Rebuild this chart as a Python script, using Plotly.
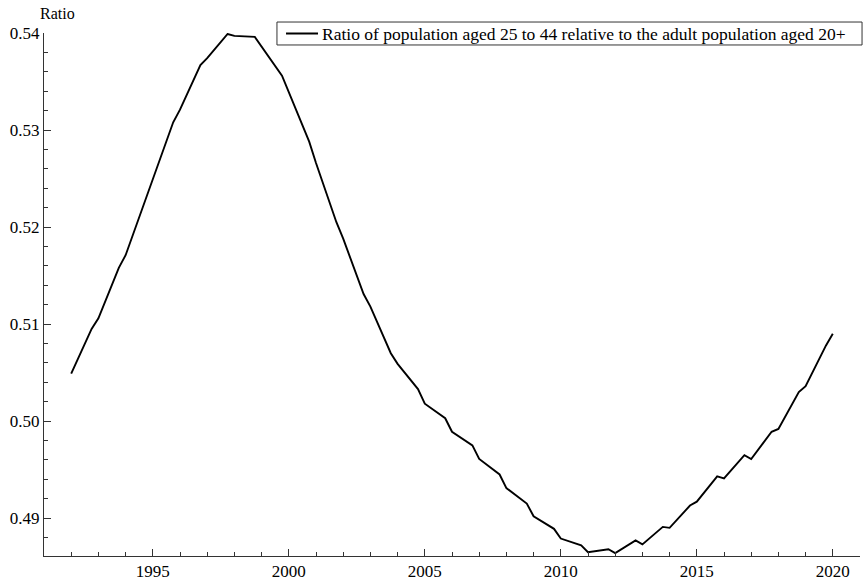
import plotly.graph_objects as go

# Decimal years (kinks of the curve) and ratio values
years = [1992.0, 1992.75, 1993.0, 1993.75, 1994.0, 1994.75, 1995.0, 1995.75,
         1996.0, 1996.75, 1997.0, 1997.75, 1998.0, 1998.75, 1999.75, 2000.75,
         2001.0, 2001.75, 2002.0, 2002.75, 2003.0, 2003.75, 2004.0, 2004.75,
         2005.0, 2005.75, 2006.0, 2006.75, 2007.0, 2007.75, 2008.0, 2008.75,
         2009.0, 2009.75, 2010.0, 2010.75, 2011.0, 2011.75, 2012.0, 2012.75,
         2013.0, 2013.75, 2014.0, 2014.75, 2015.0, 2015.75, 2016.0, 2016.75,
         2017.0, 2017.75, 2018.0, 2018.75, 2019.0, 2019.75, 2020.0]
ratio = [0.5049, 0.5095, 0.5106, 0.5158, 0.5171, 0.5230, 0.5249, 0.5308,
         0.5321, 0.5367, 0.5374, 0.5399, 0.5397, 0.5396, 0.5356, 0.5288,
         0.5266, 0.5205, 0.5188, 0.5131, 0.5118, 0.5070, 0.5059, 0.5033,
         0.5018, 0.5003, 0.4989, 0.4975, 0.4961, 0.4945, 0.4931, 0.4915,
         0.4902, 0.4889, 0.4879, 0.4872, 0.4865, 0.4868, 0.4864, 0.4877,
         0.4873, 0.4891, 0.4890, 0.4913, 0.4917, 0.4943, 0.4941, 0.4965,
         0.4961, 0.4989, 0.4992, 0.5030, 0.5036, 0.5078, 0.5090]

series_name = "Ratio of population aged 25 to 44 relative to the adult population aged 20+"
y_title = "Ratio"

FONT = "Times New Roman, Liberation Serif, DejaVu Serif, serif"
LINE_COLOR = "black"

fig = go.Figure()
fig.add_trace(go.Scatter(
    x=years, y=ratio, mode="lines", name=series_name,
    line=dict(color=LINE_COLOR, width=1.9), showlegend=False,
))

# Compact boxed legend (drawn in paper coordinates, like the reference's)
legend_box = dict(type="rect", xref="paper", yref="paper",
                  x0=0.2855, x1=1.0025, y0=0.9771, y1=1.0210,
                  line=dict(color="#333333", width=1), fillcolor="white", layer="above")
legend_sample = dict(type="line", xref="paper", yref="paper",
                     x0=0.2966, x1=0.3358, y0=0.999, y1=0.999,
                     line=dict(color=LINE_COLOR, width=1.9), layer="above")

fig.update_layout(
    width=865, height=581,
    margin=dict(l=44, r=5, t=33, b=25, autoexpand=False),
    paper_bgcolor="white", plot_bgcolor="white",
    font=dict(family=FONT, size=17, color="black"),
    showlegend=False,
    shapes=[legend_box, legend_sample],
    annotations=[
        dict(text=y_title, xref="paper", yref="paper", x=0.017, y=1.0382,
             xanchor="center", yanchor="middle", showarrow=False, borderpad=0,
             font=dict(family=FONT, size=16, color="black")),
        dict(text=series_name, xref="paper", yref="paper", x=0.3395, y=0.999,
             xanchor="left", yanchor="middle", showarrow=False, borderpad=0,
             font=dict(family=FONT, size=17.5, color="black")),
    ],
)

fig.update_xaxes(
    range=[1991, 2021], showgrid=False, zeroline=False, automargin=False,
    showline=True, linecolor="#333333", linewidth=1,
    ticks="inside", ticklen=7, tickcolor="#333333",
    tick0=1995, dtick=5,
    minor=dict(dtick=1, tick0=1991, ticks="inside", ticklen=4, tickcolor="#333333", showgrid=False),
    tickfont=dict(family=FONT, size=17),
)
fig.update_yaxes(
    range=[0.4861, 0.54], showgrid=False, zeroline=False, automargin=False,
    showline=True, linecolor="#333333", linewidth=1,
    ticks="inside", ticklen=7, tickcolor="#333333",
    tick0=0.49, dtick=0.01, tickformat=".2f",
    minor=dict(dtick=0.002, tick0=0.49, ticks="inside", ticklen=4, tickcolor="#333333", showgrid=False),
    tickfont=dict(family=FONT, size=17),
)

# Remove the default page margin so the figure sits at the window's top-left corner
fig.write_html("out.html", config={"displayModeBar": False},
               post_script="document.body.style.margin='0';")
